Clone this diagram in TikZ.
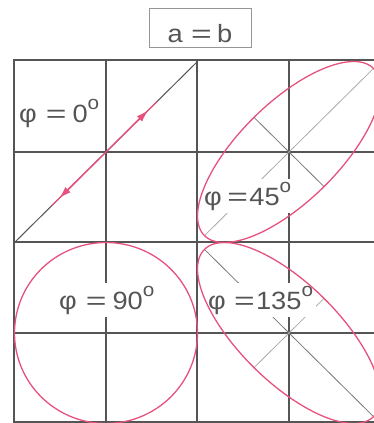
\documentclass[tikz,border=0pt]{standalone}
\usepackage{fontspec}
\setmainfont{Liberation Sans}
\usetikzlibrary{arrows.meta}
\definecolor{pinkc}{RGB}{230,82,125}
\definecolor{gridc}{RGB}{85,85,85}
\definecolor{axlight}{RGB}{170,170,170}
\definecolor{axdark}{RGB}{120,120,120}
\definecolor{txtc}{RGB}{85,85,85}
\definecolor{boxc}{RGB}{150,150,150}
\newcommand\dg{\raisebox{12.5pt}{\fontsize{19}{19}\selectfont o}}
\newcommand\eqs{\scalebox{1.3}[1]{=}}
\newcommand\wide[1]{\scalebox{1.09}[1]{#1}}
\tikzset{
  gridline/.style={draw=gridc, line width=1.2pt},
  majline/.style={draw=axlight, line width=0.8pt},
  minline/.style={draw=axdark, line width=0.8pt},
  pinkline/.style={draw=pinkc, line width=1.3pt},
  lbl/.style={fill=white, text=txtc, inner sep=3pt, anchor=base west, font=\fontsize{25}{27}\selectfont},
  quad/.style={x=91.5pt, y=90.5pt},
  tip/.style={-{Latex[length=12pt, width=7.5pt]}}
}
\begin{document}
\begin{tikzpicture}[x=1pt, y=-1pt]
\useasboundingbox (0,0) rectangle (374,423);
\fill[white] (0,0) rectangle (374,423);
\begin{scope}
\clip (0,0) rectangle (374,423);
% title
\node[draw=boxc, line width=0.8pt, minimum width=102pt, inner sep=3pt, text height=31pt, text depth=2pt,
      anchor=base, text=txtc, font=\fontsize{25}{27}\selectfont] (title) at (200,42) {\wide{a\hspace{0.3em}\eqs\hspace{0.2em}b}};
% grid
\draw[gridline] (14,60) rectangle (380,422);
\foreach \x in {106,197,289} \draw[gridline] (\x,60) -- (\x,422);
\foreach \y in {152,242,333} \draw[gridline] (14,\y) -- (380,\y);

% quadrant 1: phi = 0
\begin{scope}[xshift=106pt, yshift=-152pt, quad]
  \coordinate (q1a) at (-1,-1);
  \coordinate (q1b) at (1,1);
  \draw[gridline, line width=1pt] (q1a) -- (q1b);
  \coordinate (p1a) at (-0.59,-0.59);
  \coordinate (p1b) at (0.56,0.56);
  \draw[pinkline] (p1a) -- (p1b);
  \coordinate (ar1s) at (0.2,0.2);
  \coordinate (ar1e) at (0.46,0.46);
  \coordinate (ar2s) at (-0.2,-0.2);
  \coordinate (ar2e) at (-0.51,-0.51);
  \draw[pinkline, tip] (ar1s) -- (ar1e);
  \draw[pinkline, tip] (ar2s) -- (ar2e);
\end{scope}
\node[lbl] (l0) at (16,122) {\wide{φ\hspace{0.33em}\eqs\hspace{0.22em}0\dg}};

% quadrant 2: phi = 45
\begin{scope}[xshift=289pt, yshift=-152pt, quad]
  \coordinate (m2a) at (-0.924,-0.924);
  \coordinate (m2b) at (0.924,0.924);
  \coordinate (n2a) at (-0.383,0.383);
  \coordinate (n2b) at (0.383,-0.383);
  \draw[majline] (m2a) -- (m2b);
  \draw[minline] (n2a) -- (n2b);
\end{scope}
\node[lbl] (l45) at (201,205) {\wide{φ\hspace{0.2em}\eqs\hspace{0.05em}45\dg}};
\begin{scope}[xshift=289pt, yshift=-152pt, quad]
  \draw[pinkline] plot[domain=0:360, samples=120, smooth] ({cos(\x)},{cos(\x+45)}) -- cycle;
\end{scope}

% quadrant 3: phi = 90
\node[lbl] (l90) at (56,309) {\wide{φ\hspace{0.33em}\eqs\hspace{0.22em}90\dg}};
\begin{scope}[xshift=106pt, yshift=-333pt, quad]
  \draw[pinkline] plot[domain=0:360, samples=120, smooth] ({cos(\x)},{cos(\x+90)}) -- cycle;
\end{scope}

% quadrant 4: phi = 135
\begin{scope}[xshift=289pt, yshift=-333pt, quad]
  \coordinate (m4a) at (-0.924,0.924);
  \coordinate (m4b) at (0.924,-0.924);
  \coordinate (n4a) at (-0.383,-0.383);
  \coordinate (n4b) at (0.383,0.383);
  \draw[minline] (m4a) -- (m4b);
  \draw[majline] (n4a) -- (n4b);
\end{scope}
\node[lbl] (l135) at (205,309) {\wide{φ\hspace{0.3em}\eqs\hspace{0.05em}135\dg}};
\begin{scope}[xshift=289pt, yshift=-333pt, quad]
  \draw[pinkline] plot[domain=0:360, samples=120, smooth] ({cos(\x)},{cos(\x+135)}) -- cycle;
\end{scope}
\end{scope}
\end{tikzpicture}
\end{document}
